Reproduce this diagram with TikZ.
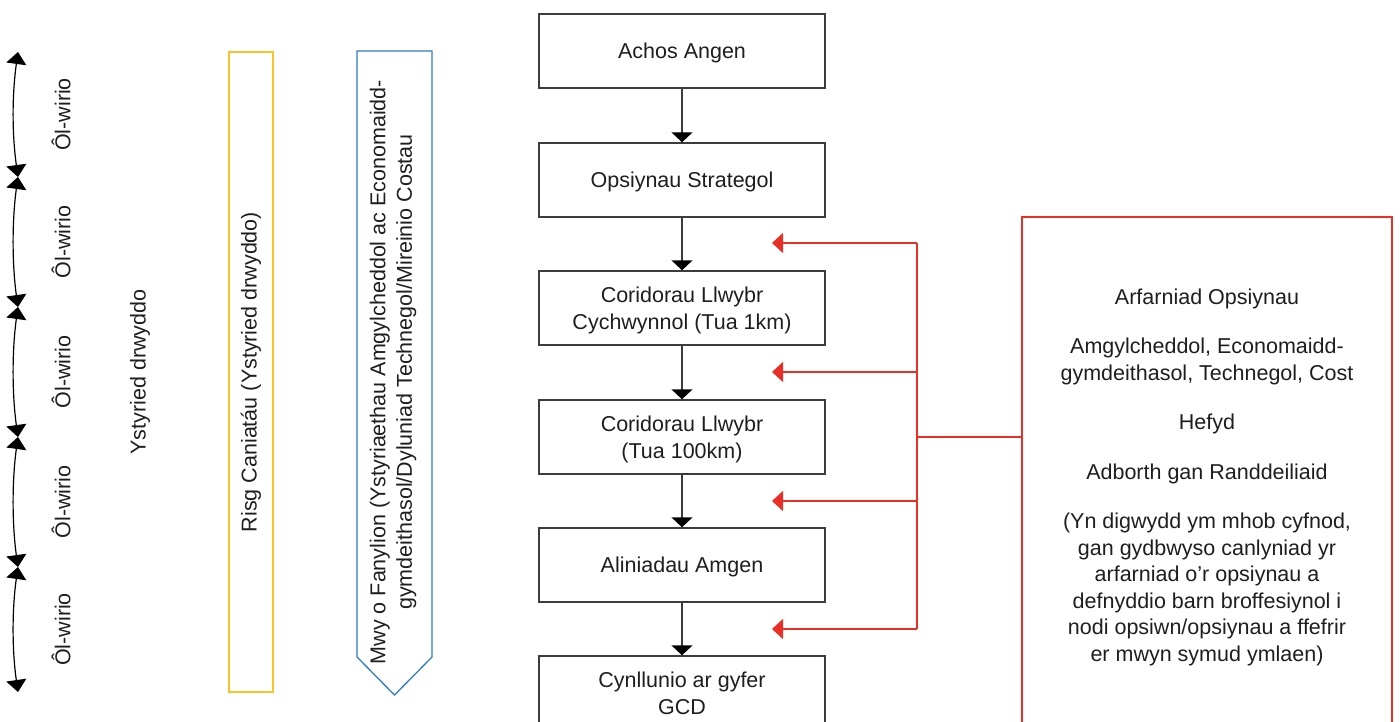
\documentclass[tikz,border=0pt]{standalone}
\usepackage{fontspec}
\setmainfont{Liberation Sans}
\usetikzlibrary{arrows.meta}
\definecolor{boxline}{RGB}{60,60,60}
\definecolor{redc}{RGB}{232,48,38}
\definecolor{yellowc}{RGB}{250,196,40}
\definecolor{bluec}{RGB}{46,125,196}
\definecolor{txt}{RGB}{30,30,30}
\begin{document}
\begin{tikzpicture}[x=1pt,y=-1pt,
  font=\fontsize{21.5}{26.5}\selectfont,
  every node/.style={text=txt, inner sep=0pt},
  flowbox/.style={draw=boxline, line width=1.4pt, minimum width=286pt, minimum height=74pt, align=center, text depth=0pt},
  flowarr/.style={draw=boxline, line width=1.4pt, -{Triangle[width=21pt,length=10pt,color=black]}},
  redarr/.style={draw=redc, line width=1.2pt, -{Triangle[width=20pt,length=11pt]}},
  redline/.style={draw=redc, line width=1.2pt},
  backarr/.style={draw=black, line width=1.2pt, {Triangle[width=20pt,length=12pt]}-{Triangle[width=20pt,length=12pt]}},
  vtext/.style={rotate=90, align=center}
]
\useasboundingbox (0,0) rectangle (1400,722);
\clip (0,0) rectangle (1400,722);

% left back-check arrows
\coordinate (j0) at (18,52);
\coordinate (j1) at (18,177);
\coordinate (j2) at (18,307);
\coordinate (j3) at (18,437);
\coordinate (j4) at (18,567);
\coordinate (j5) at (18,692);
\draw[backarr] (j0) .. controls (12,95) and (12,134) .. (j1);
\draw[backarr] (j1) .. controls (12,220) and (12,264) .. (j2);
\draw[backarr] (j2) .. controls (12,350) and (12,394) .. (j3);
\draw[backarr] (j3) .. controls (12,480) and (12,524) .. (j4);
\draw[backarr] (j4) .. controls (12,609) and (12,650) .. (j5);

\node[vtext] (ol1) at (61,114.5) {Ôl-wirio};
\node[vtext] (ol2) at (61,242) {Ôl-wirio};
\node[vtext] (ol3) at (61,372) {Ôl-wirio};
\node[vtext] (ol4) at (61,502) {Ôl-wirio};
\node[vtext] (ol5) at (61,629.5) {Ôl-wirio};

\node[vtext] (yst) at (140,372) {Ystyried drwyddo};

% yellow box
\node[vtext, draw=yellowc, line width=1.3pt, minimum width=640pt, minimum height=44pt] (yb) at (251,372) {Risg Caniatáu (Ystyried drwyddo)};

% blue pentagon arrow
\draw[bluec, line width=1.3pt] (357,51) -- (432,51) -- (432,657) -- (394.5,695) -- (357,657) -- cycle;
\node[vtext] (bt) at (393,372) {Mwy o Fanylion (Ystyriaethau Amgylcheddol ac Economaidd-\\gymdeithasol/Dyluniad Technegol/Mireinio Costau};

% flow boxes
\node[flowbox] (b1) at (682,51) {Achos Angen};
\node[flowbox] (b2) at (682,180) {Opsiynau Strategol};
\node[flowbox] (b3) at (682,308) {Coridorau Llwybr\\Cychwynnol (Tua 1km)};
\node[flowbox] (b4) at (682,437) {Coridorau Llwybr\\(Tua 100km)};
\node[flowbox] (b5) at (682,565) {Aliniadau Amgen};
\node[flowbox] (b6) at (682,693) {Cynllunio ar gyfer\\GCD};

\draw[flowarr] (b1.south) -- (b2.north);
\draw[flowarr] (b2.south) -- (b3.north);
\draw[flowarr] (b3.south) -- (b4.north);
\draw[flowarr] (b4.south) -- (b5.north);
\draw[flowarr] (b5.south) -- (b6.north);

% red feedback
\node[draw=redc, line width=1.2pt, minimum width=370pt, minimum height=543pt] (rb) at (1207,488.5) {};
\node[align=center] (rbt) at (1207,477) {Arfarniad Opsiynau\\[23pt]
Amgylcheddol, Economaidd-\\gymdeithasol, Technegol, Cost\\[23pt]
Hefyd\\[23pt]
Adborth gan Randdeiliaid\\[23pt]
(Yn digwydd ym mhob cyfnod,\\gan gydbwyso canlyniad yr\\arfarniad o’r opsiynau a\\defnyddio barn broffesiynol i\\nodi opsiwn/opsiynau a ffefrir\\er mwyn symud ymlaen)};

\coordinate (r1) at (917,243);
\coordinate (r2) at (917,372);
\coordinate (r3) at (917,501);
\coordinate (r4) at (917,629);
\coordinate (rm) at (917,437);
\coordinate (t1) at (772,243);
\coordinate (t2) at (772,372);
\coordinate (t3) at (772,501);
\coordinate (t4) at (772,629);
\draw[redline] (r1) -- (r4);
\draw[redline] (rm) -- (rm -| rb.west);
\draw[redarr] (r1) -- (t1);
\draw[redarr] (r2) -- (t2);
\draw[redarr] (r3) -- (t3);
\draw[redarr] (r4) -- (t4);
\end{tikzpicture}
\end{document}
